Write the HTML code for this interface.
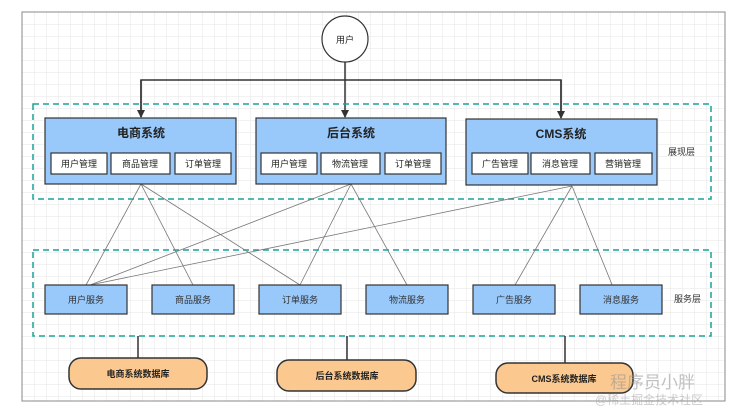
<!DOCTYPE html>
<html><head><meta charset="utf-8"><style>
body{margin:0;background:#fff;}
svg{display:block;font-family:"Liberation Sans","Noto Sans CJK SC",sans-serif;}
</style></head><body>
<svg width="736" height="412" viewBox="0 0 736 412">
<defs>
<pattern id="g" width="12" height="12" patternUnits="userSpaceOnUse" x="22" y="12">
<path d="M12 0H0V12" fill="none" stroke="#e6e6e6" stroke-width="1"/>
</pattern>
<marker id="a" markerWidth="8" markerHeight="8" refX="7" refY="4" orient="auto" markerUnits="userSpaceOnUse">
<path d="M0 0L8 4L0 8Z" fill="#333"/>
</marker>
</defs>
<rect x="22" y="12" width="703" height="389" fill="url(#g)" stroke="#888" stroke-width="1"/>
<circle cx="345" cy="39" r="23" fill="#fff" stroke="#333" stroke-width="1.2"/>
<text x="345" y="43" font-size="9" text-anchor="middle" fill="#222">用户</text>
<path d="M345 62V117" stroke="#333" stroke-width="1.5" marker-end="url(#a)"/>
<path d="M141 117V80H561V117" fill="none" stroke="#333" stroke-width="1.5"/>
<path d="M141 80V117" stroke="#333" stroke-width="1.5" marker-end="url(#a)"/>
<path d="M561 80V118" stroke="#333" stroke-width="1.5" marker-end="url(#a)"/>
<rect x="33" y="104" width="678" height="95" fill="none" stroke="#1aa39a" stroke-width="1.5" stroke-dasharray="6,4"/>
<rect x="33" y="250" width="678" height="86" fill="none" stroke="#1aa39a" stroke-width="1.5" stroke-dasharray="6,4"/>
<text x="668" y="155" font-size="9" fill="#333">展现层</text>
<text x="674" y="302" font-size="9" fill="#333">服务层</text>
<g stroke="#777" stroke-width="0.8" fill="none">
<path d="M141 184L86 285M141 184L193 285M141 184L300 285"/>
<path d="M351 184L90 285M351 184L300 285M351 184L407 285"/>
<path d="M572 186L90 285M572 186L515 285M572 186L615 292"/>
</g>
<g stroke="#333" stroke-width="1.2">
<rect x="45" y="118" width="191" height="66" fill="#99c9fb"/>
<rect x="256" y="118" width="190" height="66" fill="#99c9fb"/>
<rect x="466" y="119" width="191" height="66" fill="#99c9fb"/>
<g fill="#fff">
<rect x="51" y="153" width="56" height="21"/><rect x="111" y="153" width="59" height="21"/><rect x="175" y="153" width="56" height="21"/>
<rect x="261" y="153" width="56" height="21"/><rect x="321" y="153" width="59" height="21"/><rect x="385" y="153" width="56" height="21"/>
<rect x="472" y="153" width="56" height="21"/><rect x="531" y="153" width="59" height="21"/><rect x="595" y="153" width="57" height="21"/>
</g>
</g>
<g font-size="12" font-weight="bold" fill="#222" text-anchor="middle">
<text x="141" y="137">电商系统</text><text x="351" y="137">后台系统</text><text x="561" y="138">CMS系统</text>
</g>
<g font-size="9" fill="#222" text-anchor="middle">
<text x="79" y="167">用户管理</text><text x="140" y="167">商品管理</text><text x="203" y="167">订单管理</text>
<text x="289" y="167">用户管理</text><text x="350" y="167">物流管理</text><text x="413" y="167">订单管理</text>
<text x="500" y="167">广告管理</text><text x="560" y="167">消息管理</text><text x="623" y="167">营销管理</text>
</g>
<g stroke="#333" stroke-width="1.2" fill="#99c9fb">
<rect x="45" y="285" width="82" height="29"/><rect x="152" y="285" width="82" height="29"/><rect x="259" y="285" width="82" height="29"/>
<rect x="366" y="285" width="82" height="29"/><rect x="473" y="285" width="82" height="29"/><rect x="580" y="285" width="82" height="29"/>
</g>
<g font-size="9" fill="#333" text-anchor="middle">
<text x="86" y="303">用户服务</text><text x="193" y="303">商品服务</text><text x="300" y="303">订单服务</text>
<text x="407" y="303">物流服务</text><text x="514" y="303">广告服务</text><text x="621" y="303">消息服务</text>
</g>
<g stroke="#333" stroke-width="1.5">
<path d="M138 336V358M347 336V360M565 336V363"/>
<g fill="#fbc88f">
<rect x="69" y="358" width="138" height="31" rx="12"/>
<rect x="277" y="360" width="139" height="31" rx="12"/>
<rect x="496" y="363" width="137" height="30" rx="12"/>
</g>
</g>
<g font-size="9" font-weight="bold" fill="#222" text-anchor="middle">
<text x="138" y="377">电商系统数据库</text><text x="347" y="379">后台系统数据库</text><text x="564" y="382">CMS系统数据库</text>
</g>
<text x="610" y="388" font-size="17" fill="#999" opacity="0.6">程序员小胖</text>
<text x="595" y="404" font-size="12" fill="#aaa" opacity="0.6">@稀土掘金技术社区</text>
</svg>
</body></html>
